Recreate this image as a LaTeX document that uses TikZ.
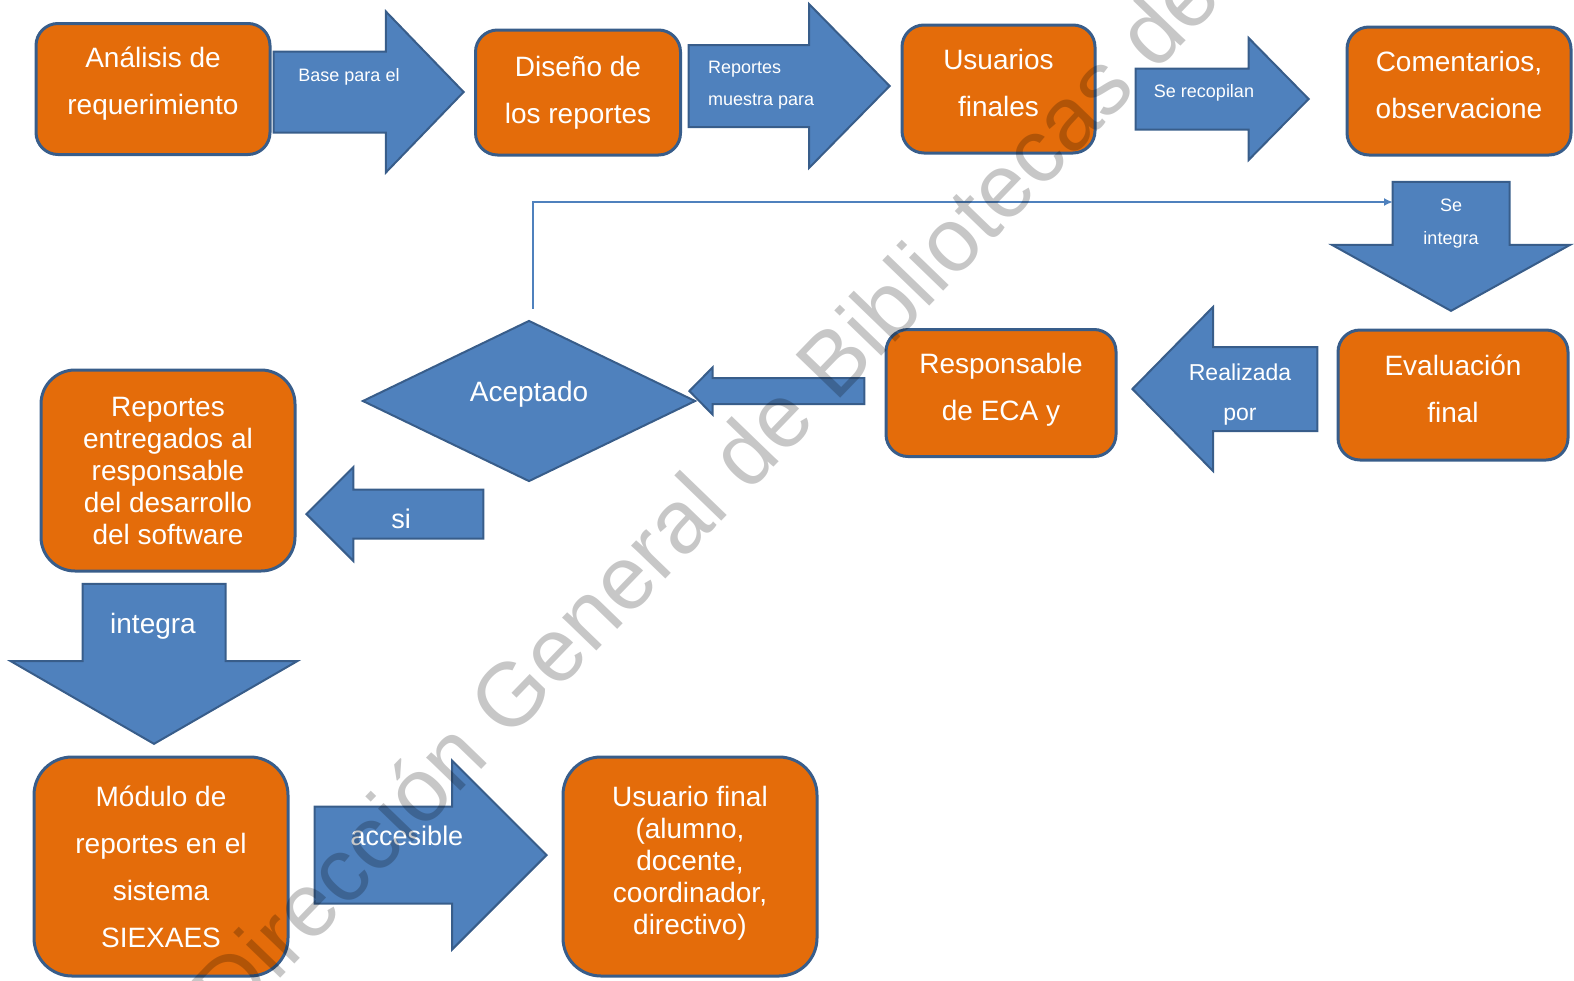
\documentclass[tikz,border=0pt]{standalone}
\usepackage{fontspec}
\setmainfont{Liberation Sans}
\usetikzlibrary{shapes.geometric,shapes.arrows,arrows.meta}

\definecolor{naranja}{HTML}{E46C0A}
\definecolor{borde}{HTML}{385D8A}
\definecolor{azul}{HTML}{4F81BD}

% deeper last line, lifts the text inside a box
\newcommand{\alza}[1]{\rule[-#1]{0pt}{#1}}

\tikzset{
  caja/.style={
      draw=borde, line width=3pt, fill=naranja,
      rounded corners=22pt,
      text=white, align=center, inner sep=0pt,
      font=\fontsize{28}{47}\selectfont
  },
  caja+/.style={
      caja, rounded corners=#1,
      font=\fontsize{28}{32}\selectfont
  },
  flecha/.style={
      single arrow, draw=borde, line width=2pt, fill=azul,
      minimum width=0pt, anchor=tip
  },
  flechah/.style={flecha, inner xsep=0pt, inner ysep=#1},
  flechav/.style={flecha, shape border rotate=270, inner ysep=0pt, inner xsep=#1},
  rotulo/.style={
      text=white, align=center, inner sep=0pt,
      font=\fontsize{18}{32}\selectfont
  },
  decision/.style={
      diamond, draw=borde, line width=2pt, fill=azul,
      text=white, inner sep=0pt, text height=20pt, text depth=20pt,
      font=\fontsize{28}{34}\selectfont
  },
  lazo/.style={draw=azul, line width=2pt, -{Latex[length=9pt,width=8pt]}},
  marca/.style={
      text=black, text opacity=.22, rotate=46, anchor=base,
      font=\fontsize{90}{90}\selectfont
  }
}

\begin{document}
\begin{tikzpicture}[x=1pt, y=-1pt]
    \useasboundingbox (0,0) rectangle (1574,980);

    % fila superior
    \node[caja, minimum width=234pt, minimum height=131pt] (anal) at (153,89) {Análisis de\\requerimiento\alza{16pt}};
    \node[caja, minimum width=205pt, minimum height=125pt] (dise) at (578,92.5) {Diseño de\\los reportes};
    \node[caja, minimum width=193pt, minimum height=128pt] (usua) at (998.5,89) {Usuarios\\finales\alza{12pt}};
    \node[caja, minimum width=224pt, minimum height=128pt] (come) at (1459,91) {Comentarios,\\observacione\alza{12pt}};

    \node[flechah=39.5pt, minimum height=190pt, single arrow head extend=40pt, single arrow tip angle=92] (fbase) at (465,92) {};
    \node[flechah=40pt, minimum height=201pt, single arrow head extend=41pt, single arrow tip angle=91] (frepo) at (891,86) {};
    \node[flechah=29.5pt, minimum height=173pt, single arrow head extend=30.5pt, single arrow tip angle=91] (freco) at (1310,99) {};
    \node[rotulo] (tbase) at (349,77) {Base para el};
    \node[rotulo, align=left, anchor=west] (trepo) at (708,85) {Reportes\\muestra para};
    \node[rotulo] (treco) at (1204,93) {Se recopilan};

    % fila media
    \node[flechav=57.5pt, minimum height=129pt, single arrow head extend=60.5pt, single arrow tip angle=122] (fsint) at (1451,312) {};
    \node[rotulo, font=\fontsize{18}{33}\selectfont] (tsint) at (1451,224) {Se\\integra};

    \node[caja, minimum width=230pt, minimum height=130pt] (eval) at (1453,395) {Evaluación\\final\alza{12pt}};
    \node[caja, minimum width=230pt, minimum height=127pt] (resp) at (1001,393) {Responsable\\de ECA y\alza{12pt}};
    \node[decision, minimum width=333pt, minimum height=161pt] (acep) at (529,401) {Aceptado};

    \node[flechah=41pt, shape border rotate=180, minimum height=185pt, single arrow head extend=40pt, single arrow tip angle=91] (freal) at (1131,389) {};
    \node[rotulo, font=\fontsize{23}{40}\selectfont] (treal) at (1240,395) {Realizada\\por};
    \node[flechah=12pt, shape border rotate=180, minimum height=175pt, single arrow head extend=10.5pt, single arrow tip angle=91] (facep) at (688,391) {};

    \coordinate (entrada) at (1393,202);
    \draw[lazo] ([xshift=4pt,yshift=11pt]acep.north) |- (entrada);

    \node[caja+=34pt, minimum width=254pt, minimum height=201pt] (entr) at (168,470.5) {Reportes\\entregados al\\responsable\\del desarrollo\\del software};
    \node[flechah=23.5pt, shape border rotate=180, minimum height=177pt, single arrow head extend=22.5pt, single arrow tip angle=90] (fsi) at (305,514) {};
    \node[rotulo, font=\fontsize{27}{32}\selectfont] (tsi) at (401,519) {si};

    % fila inferior
    \node[flechav=70.5pt, minimum height=160pt, single arrow head extend=72pt, single arrow tip angle=120] (finte) at (154,745) {};
    \node[rotulo, font=\fontsize{28}{32}\selectfont] (tinte) at (153,626) {integra};

    \node[caja, rounded corners=38pt, minimum width=254pt, minimum height=219pt] (modu) at (161,866.5) {Módulo de\\reportes en el\\sistema\\SIEXAES};
    \node[flechah=47.5pt, minimum height=232pt, single arrow head extend=46pt, single arrow tip angle=90] (facce) at (548,855) {};
    \node[rotulo, font=\fontsize{27}{32}\selectfont] (tacce) at (407,836) {accesible};
    \node[caja+=38pt, minimum width=254pt, minimum height=219pt] (ufin) at (690,866.5) {Usuario final\\(alumno,\\docente,\\coordinador,\\directivo)\alza{12pt}};

    % marca de agua
    \node[marca] (agua) at (728,515) {Dirección General de Bibliotecas de};
\end{tikzpicture}
\end{document}
